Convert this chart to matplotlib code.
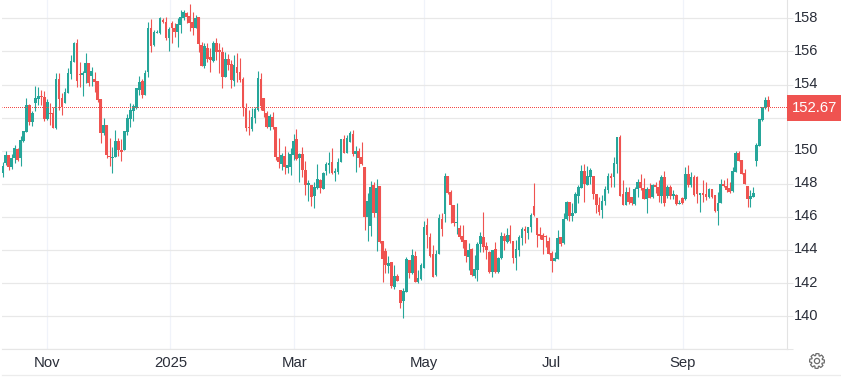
import numpy as np
import matplotlib
matplotlib.use("Agg")
import matplotlib.pyplot as plt
from matplotlib.patches import Polygon, Circle, Rectangle

plt.rcParams['font.family'] = ['Liberation Sans', 'DejaVu Sans']

# daily candles
opens = [148.68,149.24,149.72,149.04,149.54,150.11,149.58,150.61,151.15,152.75,151.76,152.91,153.11,153.31,153.23,151.94,152.26,152.26,151.38,154.34,153.17,152.91,153.51,154.64,155.38,156.49,154.64,154.60,154.68,155.28,154.52,154.34,154.22,153.13,151.05,151.54,149.68,149.56,149.6,150.59,150.05,150.05,151.15,151.92,152.42,152.56,153.67,154.22,153.37,154.78,157.4,156.39,157.14,157.1,157.9,157.8,156.83,157.7,157.44,157.2,157.6,158.0,158.3,158.14,157.8,157.44,158.06,
    156.39,155.14,156.19,155.64,155.42,156.49,156.09,155.99,154.48,155.54,155.22,154.23,155.08,154.78,154.33,
    152.56,151.41,151.33,151.96,152.46,154.33,153.16,152.26,151.45,152.02,151.41,149.6,149.2,149.68,148.97,149.04,149.74,150.71,149.58,149.78,148.84,147.91,147.91,147.26,147.73,148.23,147.71,148.77,149.14,149.32,148.67,148.71,149.34,150.71,149.88,150.55,151.01,149.8,149.96,149.6,149.02,146.0,145.47,147.93,146.22,147.87,144.52,143.94,143.05,143.28,141.78,142.43,141.59,
    140.94,141.49,143.4,142.6,143.64,142.05,142.25,142.94,145.5,144.81,143.74,142.49,143.74,145.88,146.16,148.48,147.49,146.72,145.66,145.35,144.85,144.61,143.6,144.07,142.45,142.8,144.37,144.79,144.25,143.86,142.66,144.05,142.7,143.54,144.85,144.51,144.89,144.53,143.54,143.99,144.71,145.27,145.05,145.41,146.66,145.94,144.95,144.93,144.85,144.57,143.8,143.36,143.46,144.77,144.41,145.86,146.89,146.06,146.26,147.29,147.73,148.78,147.95,148.44,148.48,147.39,146.72,
    146.42,146.98,147.63,148.45,148.39,149.2,150.81,147.39,146.72,147.53,147.19,146.78,147.67,148.13,147.73,147.1,147.67,147.19,147.93,147.79,147.27,148.43,147.27,147.83,147.27,147.31,146.78,147.15,147.06,148.6,147.91,148.43,148.39,147.31,147.43,147.37,147.23,147.71,147.35,146.38,146.86,147.99,147.87,147.73,147.57,148.74,149.88,149.44,148.64,147.87,147.06,147.23,149.4,150.31,151.86,152.66,153.07]
highs = [149.30,149.99,149.72,149.81,150.35,150.15,150.89,151.2,153.19,152.83,152.40,153.91,153.83,153.67,153.59,153.13,152.87,152.62,154.68,154.68,153.47,153.77,154.98,155.79,156.59,156.75,155.34,154.82,155.89,155.28,155.08,154.74,154.22,153.13,151.98,151.54,150.75,150.25,151.26,150.75,150.69,151.2,152.2,152.87,152.83,153.77,154.5,154.34,154.88,157.8,157.96,157.3,157.3,158.06,158.0,158.06,157.5,157.84,157.7,158.0,158.5,158.5,158.4,158.87,158.36,158.2,158.06,
    156.59,156.49,156.49,156.19,156.65,156.79,156.53,156.29,155.95,155.85,155.48,155.79,155.93,155.58,154.47,
    152.86,152.46,152.56,152.66,154.82,154.67,153.16,152.42,152.22,152.36,151.41,150.77,149.84,150.28,149.92,150.14,151.01,151.31,149.84,150.2,149.38,148.2,147.91,148.13,149.2,148.27,148.73,149.32,149.92,150.14,148.97,149.54,150.71,150.95,150.95,151.19,151.25,150.28,150.18,150.5,149.02,147.42,148.17,148.11,148.29,147.87,144.52,144.1,143.66,143.28,143.09,142.55,141.59,
    141.69,143.6,143.4,144.05,143.95,142.8,143.2,145.76,145.96,145.01,144.31,144.0,146.16,146.22,148.64,148.48,147.63,146.72,146.83,145.5,145.5,144.61,144.41,144.13,143.7,144.51,145.09,146.3,144.51,143.96,144.0,144.51,143.6,145.11,145.01,145.35,145.5,144.55,144.61,144.89,145.37,145.46,145.41,146.22,148.03,145.94,145.41,145.01,144.91,144.81,143.96,143.9,145.21,144.81,146.22,146.99,146.93,146.83,147.53,147.93,149.14,149.2,149.08,148.94,148.48,147.39,147.19,
    147.33,147.87,148.63,148.63,149.64,150.85,150.95,148.23,147.83,147.83,147.23,147.83,148.27,148.6,148.33,147.83,148.03,147.99,148.13,148.23,148.53,148.8,147.93,147.93,147.63,147.39,147.03,147.23,149.0,149.14,148.74,148.53,148.47,147.47,148.23,148.13,147.73,147.71,147.35,147.53,148.27,148.23,148.33,148.13,149.0,149.97,149.97,149.44,148.88,147.87,147.63,147.83,150.45,151.9,152.66,153.23,153.31]
lows = [148.44,149.14,148.84,148.92,149.28,149.38,149.10,150.55,151.15,151.56,151.50,152.40,152.77,152.77,151.80,151.86,151.56,151.40,151.32,152.46,152.16,152.91,153.47,154.34,155.34,153.87,153.83,153.31,154.12,153.91,153.91,153.57,152.97,150.49,150.97,149.54,149.08,148.68,149.6,149.68,149.40,150.05,150.95,151.46,151.82,152.5,153.37,153.21,153.37,154.48,155.99,156.33,157.1,157.04,157.7,156.7,156.05,156.49,156.85,156.29,157.1,157.9,157.7,157.26,157.0,157.4,155.99,
    155.14,155.02,155.38,154.78,155.34,155.48,154.68,153.77,154.48,154.88,153.81,153.91,154.17,154.17,152.10,
    151.21,150.95,151.21,151.65,152.42,152.46,152.06,151.35,151.25,151.29,149.44,148.93,148.84,148.59,148.63,148.53,149.44,149.44,148.13,148.43,147.32,146.98,146.68,146.56,147.67,147.42,147.67,148.53,148.63,148.59,148.19,148.59,149.34,149.88,149.88,150.55,149.68,148.73,149.04,149.14,145.21,144.54,144.85,146.0,143.96,144.4,142.09,142.59,142.59,141.68,141.62,142.15,140.48,
    139.88,141.49,142.33,142.56,142.05,141.99,142.19,142.94,144.1,143.6,142.39,142.45,143.74,144.85,145.72,147.39,145.66,145.46,144.97,144.67,144.15,143.3,142.8,142.43,142.29,142.13,143.9,143.9,143.46,142.6,142.39,142.6,142.6,143.44,144.0,144.45,144.41,143.24,142.8,143.64,144.29,144.41,144.69,145.11,146.06,144.21,144.65,143.76,144.21,143.76,142.7,143.36,143.46,144.25,144.37,145.82,145.76,145.78,146.26,146.87,147.73,146.93,147.95,147.99,147.09,146.22,146.14,
    145.92,146.72,147.43,147.83,147.83,148.63,147.27,146.72,146.72,146.78,146.72,146.72,147.23,147.63,147.1,146.26,147.12,147.12,147.43,146.93,146.82,146.66,147.12,147.06,147.06,146.72,146.78,146.78,147.03,147.83,147.83,147.27,146.82,146.32,146.92,147.02,147.12,147.12,146.32,145.51,146.82,147.83,147.53,147.47,147.53,148.74,149.4,148.6,147.97,146.62,146.62,147.23,149.08,150.31,151.82,152.5,152.42]
closes = [149.08,149.72,149.04,149.56,150.15,149.44,150.65,151.2,152.75,151.76,152.26,153.17,153.31,153.23,151.94,152.93,152.22,151.40,154.34,153.15,152.62,153.53,154.68,155.42,156.49,154.24,154.60,154.72,155.28,154.12,154.82,154.18,153.07,151.09,151.54,149.76,149.6,149.64,150.59,150.05,149.95,151.2,151.96,152.46,152.71,153.77,154.14,153.37,154.68,157.4,156.35,157.16,157.2,158.0,157.8,156.83,157.36,157.44,157.2,157.64,158.06,158.36,158.1,157.74,157.44,158.0,156.43,
    155.14,156.33,155.54,155.48,156.49,155.99,155.99,154.48,155.54,155.18,154.27,155.18,154.72,154.27,152.6,
    151.39,151.37,152.02,152.5,154.37,152.7,152.42,151.45,152.1,151.41,149.64,149.34,149.74,149.04,149.12,149.8,150.59,149.48,149.78,148.84,147.93,148.05,147.22,147.83,148.27,147.73,148.63,149.2,149.24,148.63,148.75,149.32,150.71,149.88,150.75,151.05,149.8,149.96,149.54,149.2,146.01,146.96,147.81,146.22,147.73,144.46,143.46,143.11,143.23,141.83,142.43,142.15,140.82,
    141.55,143.46,142.64,143.7,142.05,142.29,143.1,145.37,144.91,143.64,142.39,143.74,145.92,145.29,148.48,147.47,146.72,145.66,145.7,144.81,144.51,143.64,144.01,142.49,142.86,144.37,144.83,144.21,144.0,142.7,144.0,142.7,143.54,144.87,144.57,144.89,144.57,143.5,144.05,144.77,145.27,145.15,145.41,146.1,146.1,144.93,144.87,144.61,144.77,143.76,143.36,143.5,144.71,144.37,145.88,146.89,146.06,146.26,147.39,147.79,148.78,147.97,148.48,148.84,147.39,146.72,146.3,
    146.98,147.69,148.47,148.33,149.24,150.81,147.27,146.72,147.53,146.92,146.82,147.67,148.13,147.73,147.1,147.67,147.12,147.93,147.79,147.27,148.43,146.86,147.79,147.27,147.39,146.78,146.86,146.82,148.6,147.91,148.39,147.31,147.39,147.43,147.31,147.23,147.67,147.23,146.38,146.86,147.99,147.87,147.63,147.53,148.78,149.88,149.4,148.6,147.97,147.06,147.27,147.43,150.35,151.9,152.66,153.07,152.67]

price_ticks = [140, 142, 144, 146, 148, 150, 152, 154, 156, 158]
grid_prices = [138] + price_ticks
last_price = 152.67

# candle index of each month label
month_pos = [15.0, 56.5, 98.3, 142.1, 184.8, 229.2]
month_labels = ['Nov', '2025', 'Mar', 'May', 'Jul', 'Sep']

UP = '#26a69a'
DOWN = '#ef5350'
W, H = 841, 377
LEFT, RIGHT, BOTTOM = 2, 786.5, 349.3

fig = plt.figure(figsize=(W / 100, H / 100), dpi=100)
ax = fig.add_axes([LEFT / W, 1 - BOTTOM / H, (RIGHT - LEFT) / W, BOTTOM / H])

n = len(opens)
idx = np.arange(n)
o = np.array(opens)
c = np.array(closes)
colors = [UP if c[i] >= o[i] else DOWN for i in idx]

ax.vlines(idx, lows, highs, colors=colors, lw=0.8, zorder=3)
ax.bar(idx, np.abs(c - o), bottom=np.minimum(o, c), width=0.9, color=colors, lw=0, zorder=4)

step = (768.3 - 2.7) / (n - 1)
ax.set_xlim((LEFT - 2.7) / step, (RIGHT - 2.7) / step)
ax.set_ylim(138.02, 159.106)

ax.set_yticks(grid_prices)
ax.set_yticklabels([])
ax.yaxis.tick_right()
ax.tick_params(axis='y', length=4.5, width=0.75, color='#e6e6e6', pad=0)
ax.set_xticks(month_pos)
ax.set_xticklabels([])
ax.tick_params(axis='x', length=0)
ax.grid(axis='y', color='#e8e8e8', lw=0.9, zorder=0)
ax.grid(axis='x', color='#f0f3fa', lw=0.9, zorder=0)
ax.set_axisbelow(True)
for side in ['top', 'left']:
    ax.spines[side].set_visible(False)
ax.spines['right'].set_color('#e3e3e3')
ax.spines['bottom'].set_color('#e6e6e6')
ax.axhline(last_price, color='#f44a47', lw=0.72, ls=(0.5, (1, 1)), zorder=5)

# overlay in pixels for labels and the little icon
ov = fig.add_axes([0, 0, 1, 1], facecolor='none')
ov.set_xlim(0, W)
ov.set_ylim(H, 0)
ov.axis('off')

to_px = lambda v: ov.transData.inverted().transform(ax.transData.transform((0, v)))[1]
for p in price_ticks:
    ov.text(793.5, to_px(p) - 0.6, str(p), fontsize=10.5, color='#2a2e39', va='center', ha='left')
for m, lab in zip(month_pos, month_labels):
    px = ov.transData.inverted().transform(ax.transData.transform((m, 0)))[0]
    ov.text(px, 363, lab, fontsize=10.7, color='#2a2e39', va='center', ha='center')

ov.add_patch(Rectangle((787, 95), 54, 25.7, color=DOWN, lw=0, zorder=6))
ov.text(814.5, 108.5, '%.2f' % last_price, fontsize=10.7, color='white', va='center', ha='center', zorder=7)

ov.plot([2, W], [375, 375], color='#ececec', lw=0.9)

# settings gear
cx, cy = 817, 361
ang = np.linspace(0, 2 * np.pi, 49)[:-1] + np.pi / 24
rad = np.array([7.4, 7.4, 5.6, 5.6, 7.4, 7.4] * 8)
ov.add_patch(Polygon(np.c_[cx + rad * np.cos(ang), cy + rad * np.sin(ang)], closed=True,
                     fill=False, ec='#6b6b6b', lw=0.9))
ov.add_patch(Circle((cx, cy), 2.6, fill=False, ec='#6b6b6b', lw=0.9))

fig.savefig('out.png', dpi=100)
